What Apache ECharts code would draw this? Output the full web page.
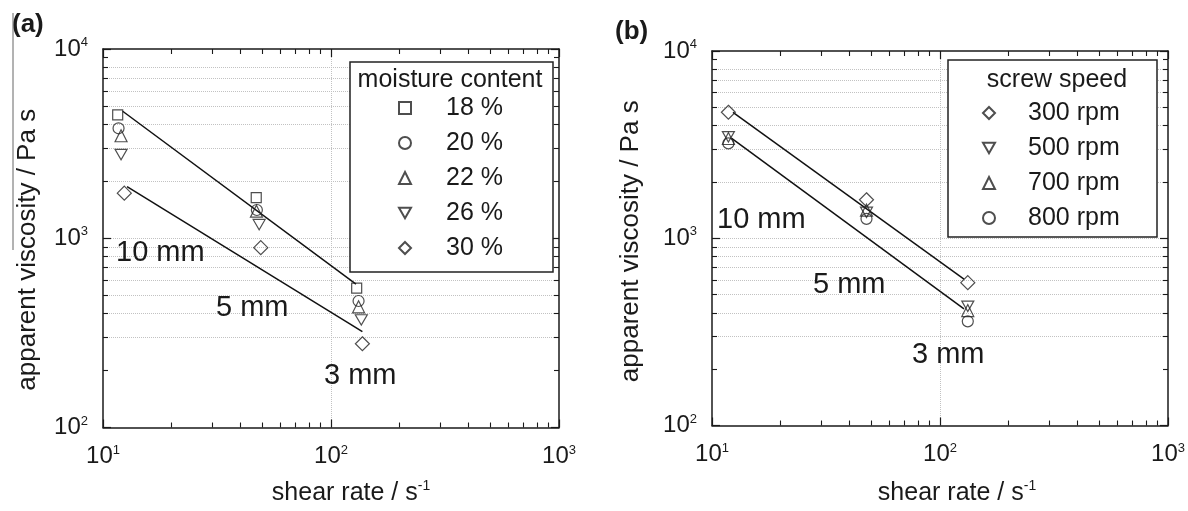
<!DOCTYPE html>
<html><head><meta charset="utf-8">
<script src="https://cdn.jsdelivr.net/npm/echarts@6/dist/echarts.min.js"></script>
<style>html,body{margin:0;padding:0;background:#fff}#c{width:1188px;height:511px}</style>
</head><body><div id="c"></div>
<script>
// ---------------- data ----------------
const xTickExp = ['1', '2', '3'];          // 10^1 .. 10^3
const yTickExp = ['2', '3', '4'];          // 10^2 .. 10^4
const minorMultipliers = [2, 3, 4, 5, 6, 7, 8, 9];

// panel (a): moisture content
const moistureNames = ['18 %', '20 %', '22 %', '26 %', '30 %'];
const shearA18 = [11.6, 47.0, 129.6]; const viscA18 = [4490, 1640, 545];
const shearA20 = [11.7, 47.3, 132.1]; const viscA20 = [3810, 1410, 466];
const shearA22 = [12.0, 47.1, 132.1]; const viscA22 = [3480, 1390, 434];
const shearA26 = [12.0, 48.4, 135.8]; const viscA26 = [2770, 1180, 370];
const shearA30 = [12.4, 49.2, 137.3]; const viscA30 = [1730, 892, 277];
const fitAUpperShear = [12.2, 128.7]; const fitAUpperVisc = [4690, 572];
const fitALowerShear = [12.75, 137.3]; const fitALowerVisc = [1873, 321];

// panel (b): screw speed
const speedNames = ['300 rpm', '500 rpm', '700 rpm', '800 rpm'];
const shearB300 = [11.8, 47.6, 132.4]; const viscB300 = [4710, 1606, 579];
const shearB500 = [11.8, 47.6, 132.4]; const viscB500 = [3480, 1377, 433];
const shearB700 = [11.8, 47.6, 132.4]; const viscB700 = [3410, 1412, 411];
const shearB800 = [11.8, 47.6, 132.4]; const viscB800 = [3210, 1270, 360];
const fitBUpperShear = [12.36, 127.4]; const fitBUpperVisc = [4699, 605];
const fitBLowerShear = [12.2, 127.4]; const fitBLowerVisc = [3413, 420];

// ---------------- styling ----------------
const font = "'Liberation Sans', Arial, Helvetica, sans-serif";
const ink = '#1a1a1a';
const gridColor = '#c2c2c2';
const downTri = 'path://M0,0L12,0L6,10.4Z';

function minorLogs(d0, d1) {
  const out = [];
  for (let d = d0; d < d1; d++) minorMultipliers.forEach(m => out.push(Math.log10(m * Math.pow(10, d))));
  return out;
}
const xMinor = minorLogs(1, 3);
const yMinor = minorLogs(2, 4);

const supRich = {
  b: { fontSize: 24, lineHeight: 26, fontFamily: font, color: ink },
  s: { fontSize: 13, lineHeight: 12, verticalAlign: 'top', fontFamily: font, color: ink }
};

function xAxes(g, nameGap, namePadLeft) {
  return [
    { type: 'log', logBase: 10, gridIndex: g, position: 'bottom', min: 10, max: 1000,
      axisLine: { show: true, onZero: false, lineStyle: { color: ink, width: 1.5 } },
      axisTick: { show: true, inside: true, length: 8, lineStyle: { color: ink, width: 1.2 } },
      axisLabel: { show: true, margin: 16, showMinLabel: true, showMaxLabel: true,
        formatter: (v, i) => '{b|10}{s|' + (xTickExp[i] !== undefined ? xTickExp[i] : '') + '}', rich: supRich },
      splitLine: { show: true, showMinLine: false, showMaxLine: false, lineStyle: { color: gridColor, type: 'dotted', width: 1 } },
      name: '{b|shear rate / s}{s|-1}', nameLocation: 'middle', nameGap: nameGap,
      nameTextStyle: { padding: [0, 0, 0, namePadLeft], rich: {
        b: { fontSize: 25, lineHeight: 28, fontFamily: font, color: ink },
        s: { fontSize: 14, lineHeight: 13, verticalAlign: 'top', fontFamily: font, color: ink } } } },
    { type: 'log', logBase: 10, gridIndex: g, position: 'top', min: 10, max: 1000,
      axisLine: { show: true, onZero: false, lineStyle: { color: ink, width: 1.5 } },
      axisTick: { show: true, inside: true, length: 8, lineStyle: { color: ink, width: 1.2 } },
      axisLabel: { show: false }, splitLine: { show: false } },
    { type: 'value', gridIndex: g, position: 'bottom', min: 1, max: 3,
      axisLine: { show: false, onZero: false },
      axisTick: { show: true, inside: true, length: 5, customValues: xMinor, lineStyle: { color: ink, width: 1.1 } },
      axisLabel: { show: false }, splitLine: { show: false } },
    { type: 'value', gridIndex: g, position: 'top', min: 1, max: 3,
      axisLine: { show: false, onZero: false },
      axisTick: { show: true, inside: true, length: 5, customValues: xMinor, lineStyle: { color: ink, width: 1.1 } },
      axisLabel: { show: false }, splitLine: { show: false } }
  ];
}

function yAxes(g, nameGap, namePad) {
  return [
    { type: 'log', logBase: 10, gridIndex: g, position: 'left', min: 100, max: 10000,
      axisLine: { show: true, onZero: false, lineStyle: { color: ink, width: 1.5 } },
      axisTick: { show: true, inside: true, length: 8, lineStyle: { color: ink, width: 1.2 } },
      axisLabel: { show: true, margin: 15, showMinLabel: true, showMaxLabel: true,
        formatter: (v, i) => '{b|10}{s|' + (yTickExp[i] !== undefined ? yTickExp[i] : '') + '}', rich: supRich },
      splitLine: { show: true, showMinLine: false, showMaxLine: false, lineStyle: { color: gridColor, type: 'dotted', width: 1 } },
      name: 'apparent viscosity / Pa s', nameLocation: 'middle', nameGap: nameGap,
      nameTextStyle: { fontSize: 26, fontFamily: font, color: ink, padding: namePad } },
    { type: 'log', logBase: 10, gridIndex: g, position: 'right', min: 100, max: 10000,
      axisLine: { show: true, onZero: false, lineStyle: { color: ink, width: 1.5 } },
      axisTick: { show: true, inside: true, length: 8, lineStyle: { color: ink, width: 1.2 } },
      axisLabel: { show: false }, splitLine: { show: false } },
    { type: 'value', gridIndex: g, position: 'left', min: 2, max: 4,
      axisLine: { show: false, onZero: false },
      axisTick: { show: true, inside: true, length: 5, customValues: yMinor, lineStyle: { color: ink, width: 1.1 } },
      axisLabel: { show: false },
      splitLine: { show: true, showMinLine: false, showMaxLine: false, lineStyle: { color: gridColor, type: 'dotted', width: 1 } } },
    { type: 'value', gridIndex: g, position: 'right', min: 2, max: 4,
      axisLine: { show: false, onZero: false },
      axisTick: { show: true, inside: true, length: 5, customValues: yMinor, lineStyle: { color: ink, width: 1.1 } },
      axisLabel: { show: false }, splitLine: { show: false } }
  ];
}

function pts(xs, ys) { return xs.map((x, i) => [x, ys[i]]); }
function scatter(name, xs, ys, symbol, size, panel) {
  return { type: 'scatter', name: name, xAxisIndex: panel * 4, yAxisIndex: panel * 4,
    symbol: symbol, symbolSize: size, symbolKeepAspect: true, data: pts(xs, ys), z: 4,
    itemStyle: { color: 'rgba(255,255,255,0)', borderColor: '#222', borderWidth: 1.2 } };
}
function fit(xs, ys, panel) {
  return { type: 'line', xAxisIndex: panel * 4, yAxisIndex: panel * 4, data: pts(xs, ys),
    symbol: 'none', silent: true, z: 3, lineStyle: { color: '#111', width: 1.5 } };
}

const series = [
  fit(fitAUpperShear, fitAUpperVisc, 0),
  fit(fitALowerShear, fitALowerVisc, 0),
  scatter(moistureNames[0], shearA18, viscA18, 'rect', 10, 0),
  scatter(moistureNames[1], shearA20, viscA20, 'circle', 11, 0),
  scatter(moistureNames[2], shearA22, viscA22, 'triangle', 12, 0),
  scatter(moistureNames[3], shearA26, viscA26, downTri, 12, 0),
  scatter(moistureNames[4], shearA30, viscA30, 'diamond', 14, 0),
  fit(fitBUpperShear, fitBUpperVisc, 1),
  fit(fitBLowerShear, fitBLowerVisc, 1),
  scatter(speedNames[0], shearB300, viscB300, 'diamond', 14, 1),
  scatter(speedNames[1], shearB500, viscB500, downTri, 12, 1),
  scatter(speedNames[2], shearB700, viscB700, 'triangle', 12, 1),
  scatter(speedNames[3], shearB800, viscB800, 'circle', 11, 1)
];

function legend(names, left, top, padLeft) {
  return { data: names, orient: 'vertical', left: left, top: top, padding: 0,
    itemWidth: 12, itemHeight: 12, itemGap: 10, selectedMode: false, z: 6,
    textStyle: { fontSize: 25, lineHeight: 25, fontFamily: font, color: ink, padding: [0, 0, 0, padLeft] } };
}

function txt(x, y, text, size, align, extra) {
  return Object.assign({ type: 'text', x: x, y: y, z: 7,
    style: { text: text, fontSize: size, fontFamily: font, fill: ink, align: align, verticalAlign: 'middle' } }, extra || {});
}

const option = {
  animation: false,
  backgroundColor: '#fff',
  grid: [
    { left: 103, top: 49, width: 456, height: 383 },
    { left: 712, top: 51, width: 456, height: 381 }
  ],
  xAxis: xAxes(0, 52, 40).concat(xAxes(1, 54, 34)),
  yAxis: yAxes(0, 62, [0, 23, 0, 0]).concat(yAxes(1, 68, [0, 6, 0, 0])),
  legend: [
    legend(moistureNames, 398, 95.5, 30),
    legend(speedNames, 982, 100.5, 28)
  ],
  graphic: [
    { type: 'rect', z: 5, shape: { x: 350, y: 62, width: 203, height: 210 }, style: { fill: '#fff', stroke: '#222', lineWidth: 1.5 } },
    { type: 'rect', z: 5, shape: { x: 948, y: 60, width: 209, height: 177 }, style: { fill: '#fff', stroke: '#222', lineWidth: 1.5 } },
    txt(450, 80, 'moisture content', 25, 'center'),
    txt(1057, 80, 'screw speed', 25, 'center'),
    txt(116, 253, '10 mm', 29, 'left'),
    txt(216, 308, '5 mm', 29, 'left'),
    txt(324, 376, '3 mm', 29, 'left'),
    txt(717, 220, '10 mm', 29, 'left'),
    txt(813, 285, '5 mm', 29, 'left'),
    txt(912, 355, '3 mm', 29, 'left'),
    { type: 'text', x: 12, y: 25, z: 7, style: { text: '(a)', fontSize: 26, fontWeight: 'bold', fontFamily: font, fill: ink, align: 'left', verticalAlign: 'middle' } },
    { type: 'text', x: 615, y: 32, z: 7, style: { text: '(b)', fontSize: 26, fontWeight: 'bold', fontFamily: font, fill: ink, align: 'left', verticalAlign: 'middle' } },
    { type: 'line', z: 7, shape: { x1: 13, y1: 13, x2: 13, y2: 250 }, style: { stroke: '#666', lineWidth: 1 } }
  ],
  series: series
};

const chart = echarts.init(document.getElementById('c'), null, { renderer: 'canvas' });
chart.setOption(option);
</script>
</body></html>
